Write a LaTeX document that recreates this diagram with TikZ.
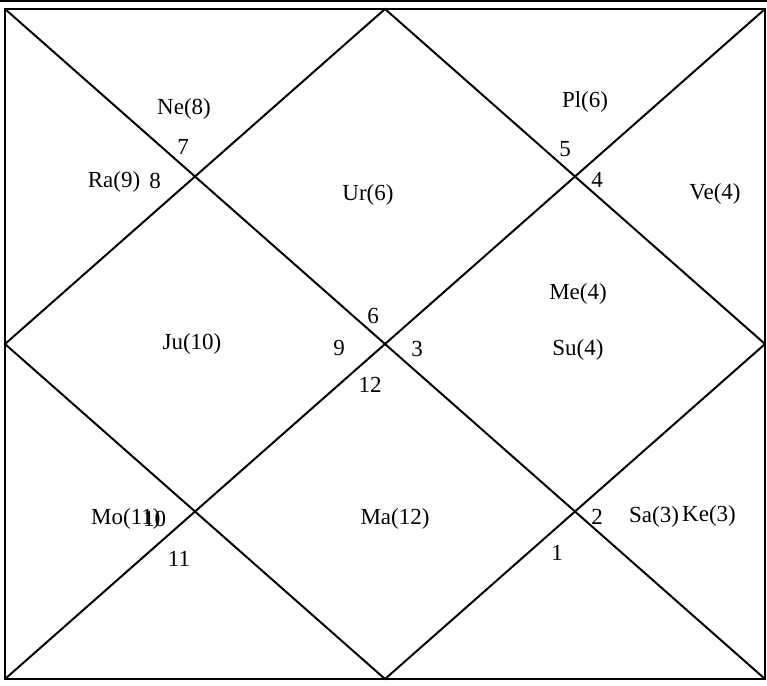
\documentclass[tikz,border=0pt]{standalone}
\usepackage{fontspec}
\setmainfont{Liberation Serif}
\begin{document}
\begin{tikzpicture}[x=1pt,y=-1pt,
  ln/.style={line width=2pt},
  lbl/.style={inner sep=0pt,font=\fontsize{23}{23}\selectfont},
  num/.style={inner sep=0pt,font=\fontsize{23}{23}\selectfont}]
\useasboundingbox (0,0) rectangle (767,685);
\fill[white] (0,0) rectangle (767,685);
% top border line
\coordinate (tl0) at (0,1.2);
\coordinate (tr0) at (767,1.2);
\draw[ln] (tl0) -- (tr0);
% chart corners
\coordinate (A) at (5,9);
\coordinate (B) at (765,9);
\coordinate (C) at (765,679);
\coordinate (D) at (5,679);
\coordinate (T) at (385,9);
\coordinate (R) at (765,344);
\coordinate (Bm) at (385,679);
\coordinate (L) at (5,344);
\draw[ln] (A) -- (B) -- (C) -- (D) -- cycle;
\draw[ln] (A) -- (C);
\draw[ln] (B) -- (D);
\draw[ln] (T) -- (R) -- (Bm) -- (L) -- cycle;
% labels
\node[lbl] (ne) at (184,109) {Ne(8)};
\node[num] (n7) at (183,147) {7};
\node[lbl] (ra) at (114,182) {Ra(9)};
\node[num] (n8) at (155,181) {8};
\node[lbl] (pl) at (585,102) {Pl(6)};
\node[num] (n5) at (565,149) {5};
\node[num] (n4) at (597,180) {4};
\node[lbl] (ve) at (715,194) {Ve(4)};
\node[lbl] (ur) at (368,195) {Ur(6)};
\node[lbl] (me) at (578,294) {Me(4)};
\node[lbl] (su) at (578,350) {Su(4)};
\node[lbl] (ju) at (192,344) {Ju(10)};
\node[num] (n6) at (373,316) {6};
\node[num] (n9) at (339,348) {9};
\node[num] (n3) at (417,349) {3};
\node[num] (n12) at (370,385) {12};
\node[lbl,anchor=west] (mo) at (91,519) {Mo(11)};
\node[num,anchor=west] (n10) at (143,519) {10};
\node[num] (n11) at (179,559) {11};
\node[lbl] (ma) at (395,519) {Ma(12)};
\node[num] (n2) at (597,517) {2};
\node[lbl] (sa) at (654,517) {Sa(3)};
\node[lbl] (ke) at (709,516) {Ke(3)};
\node[num] (n1) at (557,553) {1};
\end{tikzpicture}
\end{document}
